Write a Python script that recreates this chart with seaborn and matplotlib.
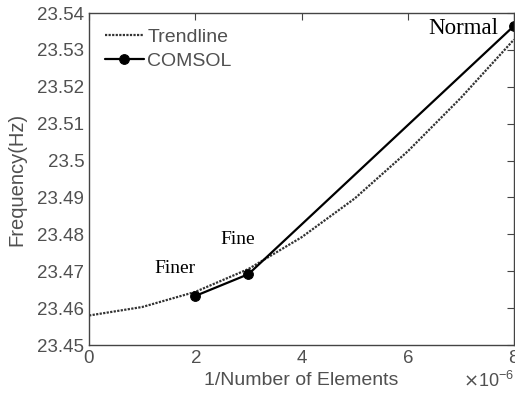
import matplotlib
matplotlib.use("Agg")
import matplotlib.pyplot as plt
import matplotlib.ticker as mticker
import seaborn as sns
import numpy as np

# data (x in 1/elements)
trend_x = [0e-6, 1e-6, 2e-6, 3e-6, 4e-6, 5e-6, 6e-6, 7e-6, 8e-6]
trend_y = [23.4580, 23.4603, 23.4644, 23.4706, 23.4792, 23.4897, 23.5025, 23.5170, 23.5328]
comsol_x = [2e-6, 3e-6, 8e-6]
comsol_y = [23.4633, 23.4692, 23.5365]
mesh_names = ["Finer", "Fine", "Normal"]
y_ticks = [23.45, 23.46, 23.47, 23.48, 23.49, 23.50, 23.51, 23.52, 23.53, 23.54]

sns.set_style("white")
plt.rcParams['font.family'] = ['Liberation Sans', 'DejaVu Sans']

text_grey = "#505050"
fig = plt.figure(figsize=(5.15, 4.0), dpi=100)
ax = fig.add_axes([0.173, 0.1375, 0.825, 0.83])

sns.lineplot(x=trend_x, y=trend_y, ax=ax, color="#333333", linestyle=(0, (1, 0.6)),
             linewidth=1.6, label="Trendline")
sns.lineplot(x=comsol_x, y=comsol_y, ax=ax, color="black", linewidth=1.6,
             marker="o", markersize=7, markeredgecolor="black", label="COMSOL")

# mesh labels: (dx, dy, ha, va, size)
label_style = [(0, 13.5, "right", "bottom", 14),
               (-8, 19, "center", "bottom", 14),
               (-11, -2, "right", "center", 16.5)]
for name, xv, yv, (dx, dy, ha, va, fs) in zip(mesh_names, comsol_x, comsol_y, label_style):
    ax.annotate(name, (xv, yv), xytext=(dx, dy), textcoords="offset points",
                ha=ha, va=va, fontsize=fs, family="Liberation Serif", color="black")

ax.set_xlim(0, 8e-6)
ax.set_ylim(23.45, 23.54)
ax.set_yticks(y_ticks)
ax.yaxis.set_major_formatter(mticker.FormatStrFormatter("%g"))
ax.set_xticks([0, 2e-6, 4e-6, 6e-6, 8e-6])
fmt = mticker.ScalarFormatter(useMathText=True)
fmt.set_powerlimits((-3, 3))
ax.xaxis.set_major_formatter(fmt)
off = ax.xaxis.get_offset_text()
off.set_fontsize(13)
off.set_color(text_grey)

ax.tick_params(direction="in", length=5, width=0.8, top=True, right=True,
               labelsize=13.5, labelcolor=text_grey, color="#444444")
for s in ax.spines.values():
    s.set_color("#444444")
    s.set_linewidth(1.0)

ax.set_xlabel("1/Number of Elements", fontsize=14, color=text_grey, labelpad=4)
ax.set_ylabel("Frequency(Hz)", fontsize=14.5, color=text_grey, labelpad=8)

leg = ax.legend(loc="upper left", frameon=False, fontsize=14, handlelength=2.0,
                handletextpad=0.2, labelspacing=0.3, borderaxespad=0.4)
for t in leg.get_texts():
    t.set_color(text_grey)

fig.savefig("out.png", dpi=100)
